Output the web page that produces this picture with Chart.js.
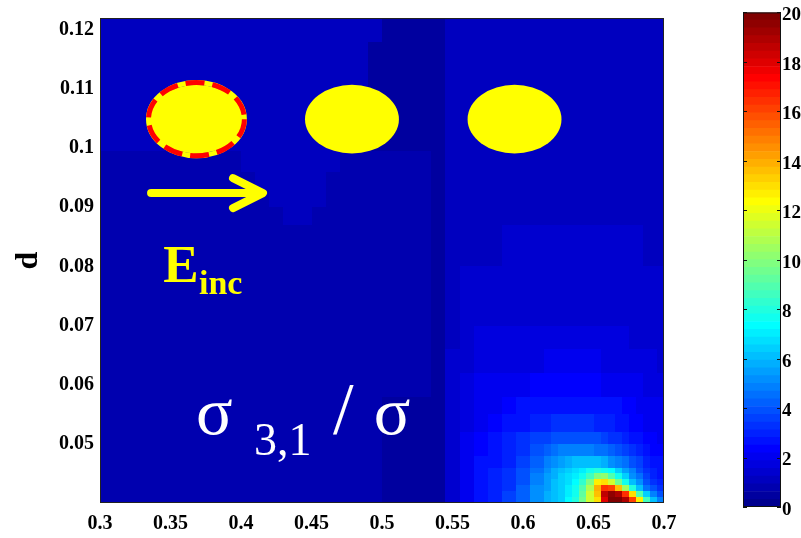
<!DOCTYPE html>
<html>
<head>
<meta charset="utf-8">
<script src="https://cdn.jsdelivr.net/npm/chart.js@4.4.0/dist/chart.umd.min.js"></script>
<style>
  html, body { margin: 0; padding: 0; background: #fff; }
  #wrap { position: relative; width: 801px; height: 538px; }
  #map { position: absolute; left: 0; top: 0; }
  #cbar { position: absolute; left: 700px; top: 0; }
</style>
</head>
<body>
<div id="wrap">
  <canvas id="map" width="700" height="538"></canvas>
  <canvas id="cbar" width="101" height="538"></canvas>
</div>
<script>
// Axis ticks
const xTicks = [0.3, 0.35, 0.4, 0.45, 0.5, 0.55, 0.6, 0.65, 0.7];
const yTicks = [0.05, 0.06, 0.07, 0.08, 0.09, 0.1, 0.11, 0.12];
const cbarTicks = [0, 2, 4, 6, 8, 10, 12, 14, 16, 18, 20];

// Left part of the map (x 0.3 - 0.545): cell edges and values, rows bottom to top
const leftX = [0.30, 0.40, 0.41, 0.42, 0.43, 0.44, 0.45, 0.46, 0.47, 0.48, 0.49, 0.50, 0.51, 0.535, 0.545];
const leftY = [0.040, 0.058, 0.087, 0.090, 0.093, 0.096, 0.0995, 0.103, 0.106, 0.110, 0.114, 0.118, 0.122];
const leftV = [
  [0.8, 0.8, 0.8, 0.8, 0.8, 0.8, 0.8, 0.8, 0.8, 0.8, 0.8, 0.5, 0.5, 0.5],
  [0.8, 0.8, 0.8, 0.8, 0.8, 0.8, 0.8, 0.8, 0.8, 0.8, 0.8, 0.8, 0.8, 0.5],
  [0.8, 0.8, 0.8, 0.8, 1.1, 1.1, 0.8, 0.8, 0.8, 0.8, 0.8, 0.8, 0.8, 0.5],
  [0.8, 0.8, 0.8, 1.1, 1.1, 1.1, 1.1, 0.8, 0.8, 0.8, 0.8, 0.8, 0.8, 0.5],
  [0.8, 0.8, 1.1, 1.1, 1.1, 1.1, 1.1, 0.8, 0.8, 0.8, 0.8, 0.8, 0.8, 0.5],
  [0.8, 1.1, 1.1, 1.1, 1.1, 1.1, 1.1, 1.1, 0.8, 0.8, 0.8, 0.8, 0.8, 0.5],
  [1.0, 1.1, 1.1, 1.1, 1.1, 1.1, 1.1, 1.1, 0.5, 0.5, 0.5, 0.5, 0.5, 0.5],
  [1.0, 1.1, 1.1, 1.1, 1.1, 1.1, 1.1, 1.1, 1.1, 0.5, 0.5, 0.5, 0.5, 0.5],
  [1.0, 1.1, 1.1, 1.1, 1.1, 1.1, 1.1, 1.1, 1.1, 0.5, 0.5, 0.5, 0.5, 0.5],
  [1.0, 1.1, 1.1, 1.1, 1.1, 1.1, 1.1, 1.1, 1.1, 1.1, 0.5, 0.5, 0.5, 0.5],
  [1.0, 1.1, 1.1, 1.1, 1.1, 1.1, 1.1, 1.1, 1.1, 1.1, 0.5, 0.5, 0.5, 0.5],
  [1.0, 1.1, 1.1, 1.1, 1.1, 1.1, 1.1, 1.1, 1.1, 1.1, 1.1, 0.5, 0.5, 0.5]
];

// Right part of the map (x 0.545 - 0.7), finer near the hot spot
const rightX = [0.545, 0.555, 0.565, 0.575, 0.585, 0.595, 0.605, 0.615, 0.62, 0.625, 0.63, 0.635,
  0.64, 0.645, 0.65, 0.655, 0.66, 0.665, 0.67, 0.675, 0.68, 0.685, 0.69, 0.695, 0.70];
const rightY = [0.040, 0.041, 0.042, 0.043, 0.044, 0.045, 0.046, 0.048, 0.050, 0.052, 0.055,
  0.058, 0.062, 0.066, 0.070, 0.075, 0.080, 0.087, 0.122];
const rightV = [
  [1.4, 2.0, 2.7, 3.1, 3.5, 4.3, 5.2, 5.8, 6.2, 6.5, 7.2, 8.0, 9.5, 11.5, 13.0, 18.0, 19.8, 19.8, 18.8, 16.0, 12.5, 8.5, 6.0, 4.8],
  [1.4, 2.0, 2.7, 3.1, 3.5, 4.2, 5.1, 5.7, 6.1, 6.4, 7.1, 7.8, 9.3, 11.5, 13.5, 18.5, 19.5, 18.8, 16.5, 13.0, 9.0, 6.5, 4.8, 3.8],
  [1.4, 2.0, 2.6, 3.0, 3.4, 4.1, 5.0, 5.6, 6.0, 6.3, 7.0, 7.6, 8.8, 10.8, 14.0, 16.5, 16.0, 13.5, 10.5, 8.0, 6.0, 4.6, 3.8, 3.2],
  [1.4, 2.0, 2.6, 3.0, 3.4, 4.0, 4.9, 5.5, 6.0, 6.3, 6.8, 7.3, 8.2, 9.8, 12.5, 13.0, 11.5, 9.5, 7.8, 6.2, 5.0, 4.0, 3.4, 2.9],
  [1.4, 2.0, 2.6, 3.0, 3.3, 3.9, 4.8, 5.4, 5.9, 6.3, 6.8, 7.1, 7.6, 8.5, 9.8, 10.0, 9.0, 7.6, 6.4, 5.3, 4.4, 3.6, 3.1, 2.7],
  [1.4, 2.0, 2.6, 2.9, 3.2, 3.8, 4.6, 5.2, 5.7, 6.1, 6.5, 6.8, 7.1, 7.5, 7.9, 7.8, 7.2, 6.4, 5.6, 4.8, 4.0, 3.4, 2.9, 2.6],
  [1.4, 2.0, 2.5, 2.8, 3.1, 3.6, 4.3, 4.8, 5.2, 5.5, 5.8, 6.0, 6.1, 6.1, 6.0, 5.7, 5.3, 4.9, 4.4, 4.0, 3.5, 3.1, 2.8, 2.5],
  [1.4, 1.9, 2.4, 2.7, 3.0, 3.4, 3.9, 4.3, 4.5, 4.7, 4.8, 4.9, 4.9, 4.8, 4.6, 4.4, 4.1, 3.8, 3.5, 3.2, 2.9, 2.7, 2.4, 2.2],
  [1.4, 1.9, 2.3, 2.6, 2.9, 3.2, 3.5, 3.7, 3.8, 3.9, 4.0, 4.0, 4.0, 3.9, 3.8, 3.6, 3.4, 3.2, 3.0, 2.8, 2.6, 2.4, 2.2, 2.1],
  [1.4, 1.8, 2.1, 2.4, 2.6, 2.8, 3.0, 3.1, 3.2, 3.3, 3.3, 3.3, 3.3, 3.2, 3.1, 3.0, 2.9, 2.7, 2.5, 2.3, 2.2, 2.1, 2.0, 1.9],
  [1.4, 1.7, 2.0, 2.1, 2.3, 2.5, 2.5, 2.7, 2.7, 2.7, 2.7, 2.7, 2.7, 2.7, 2.7, 2.5, 2.5, 2.5, 2.3, 2.3, 2.0, 2.0, 2.0, 1.9],
  [1.4, 1.7, 2.0, 2.0, 2.0, 2.0, 2.3, 2.3, 2.3, 2.3, 2.3, 2.3, 2.3, 2.3, 2.3, 2.0, 2.0, 2.0, 2.0, 2.0, 2.0, 1.7, 1.7, 1.7],
  [1.4, 1.4, 1.7, 1.7, 1.7, 1.7, 1.7, 2.0, 2.0, 2.0, 2.0, 2.0, 2.0, 2.0, 2.0, 1.7, 1.7, 1.7, 1.7, 1.7, 1.7, 1.7, 1.7, 1.4],
  [1.1, 1.4, 1.7, 1.7, 1.7, 1.7, 1.7, 1.7, 1.7, 1.7, 1.7, 1.7, 1.7, 1.7, 1.7, 1.7, 1.7, 1.7, 1.7, 1.4, 1.4, 1.4, 1.4, 1.4],
  [1.1, 1.4, 1.4, 1.4, 1.4, 1.4, 1.4, 1.4, 1.4, 1.4, 1.4, 1.4, 1.4, 1.4, 1.4, 1.4, 1.4, 1.4, 1.4, 1.4, 1.4, 1.4, 1.4, 1.4],
  [1.1, 1.4, 1.4, 1.4, 1.4, 1.4, 1.4, 1.4, 1.4, 1.4, 1.4, 1.4, 1.4, 1.4, 1.4, 1.4, 1.4, 1.4, 1.4, 1.4, 1.4, 1.4, 1.4, 1.4],
  [1.1, 1.1, 1.1, 1.1, 1.4, 1.4, 1.4, 1.4, 1.4, 1.4, 1.4, 1.4, 1.4, 1.4, 1.4, 1.4, 1.4, 1.4, 1.4, 1.4, 1.4, 1.1, 1.1, 1.1],
  [1.1, 1.1, 1.1, 1.1, 1.1, 1.1, 1.1, 1.1, 1.1, 1.1, 1.1, 1.1, 1.1, 1.1, 1.1, 1.1, 1.1, 1.1, 1.1, 1.1, 1.1, 1.1, 1.1, 1.1]
];

const SERIF = '"Liberation Serif", "Times New Roman", serif';
const V_MAX = 20;
const LEVELS = 64;

// MATLAB-style jet colormap, 64 levels
function jet(v) {
  let idx = Math.floor(v / V_MAX * LEVELS);
  idx = Math.max(0, Math.min(LEVELS - 1, idx));
  const t = (idx + 1) / LEVELS;
  const c = a => Math.round(255 * Math.max(0, Math.min(1, a)));
  const r = c(Math.min(4 * t - 1.5, -4 * t + 4.5));
  const g = c(Math.min(4 * t - 0.5, -4 * t + 3.5));
  const b = c(Math.min(4 * t + 0.5, -4 * t + 2.5));
  return `rgb(${r},${g},${b})`;
}

const grids = [
  { xs: leftX, ys: leftY, vals: leftV },
  { xs: rightX, ys: rightY, vals: rightV }
];

// cell centres, used as the (invisible) scatter points
function cellPoints() {
  const pts = [];
  grids.forEach(g => {
    g.vals.forEach((row, j) => {
      row.forEach((v, i) => {
        pts.push({ x: (g.xs[i] + g.xs[i + 1]) / 2, y: (g.ys[j] + g.ys[j + 1]) / 2, v: v });
      });
    });
  });
  return pts;
}

// Paint each grid cell through the chart scales
const heatmapPlugin = {
  id: 'heatmap',
  beforeDatasetsDraw(chart) {
    const { ctx, chartArea: a, scales: { x, y } } = chart;
    ctx.save();
    ctx.beginPath();
    ctx.rect(a.left, a.top, a.right - a.left, a.bottom - a.top);
    ctx.clip();
    grids.forEach(g => {
      g.vals.forEach((row, j) => {
        const y0 = Math.round(y.getPixelForValue(g.ys[j]));
        const y1 = Math.round(y.getPixelForValue(g.ys[j + 1]));
        row.forEach((v, i) => {
          const x0 = Math.round(x.getPixelForValue(g.xs[i]));
          const x1 = Math.round(x.getPixelForValue(g.xs[i + 1]));
          ctx.fillStyle = jet(v);
          ctx.fillRect(x0, y1, x1 - x0, y0 - y1);
        });
      });
    });
    ctx.restore();
  }
};

// Particles, incident field arrow and labels drawn over the map
const overlayPlugin = {
  id: 'overlay',
  afterDatasetsDraw(chart) {
    const { ctx, scales: { x, y } } = chart;
    const px = v => x.getPixelForValue(v);
    const py = v => y.getPixelForValue(v);
    const rx = d => px(0.5 + d) - px(0.5);
    const ry = d => py(0.08) - py(0.08 + d);
    ctx.save();

    const cy = py(0.1049);
    [0.3684, 0.4787, 0.594].forEach(cx => {
      ctx.beginPath();
      ctx.ellipse(px(cx), cy, rx(0.0333), ry(0.0058), 0, 0, Math.PI * 2);
      ctx.fillStyle = '#ffff00';
      ctx.fill();
    });

    // dashed ring round the first particle
    ctx.beginPath();
    ctx.ellipse(px(0.3684), cy, rx(0.0340), ry(0.0062), 0, 0, Math.PI * 2);
    ctx.lineWidth = 5;
    ctx.strokeStyle = '#ffff00';
    ctx.stroke();
    ctx.setLineDash([19, 8]);
    ctx.strokeStyle = '#ff0000';
    ctx.stroke();
    ctx.setLineDash([]);

    // arrow
    const ay = py(0.0924);
    const tipX = px(0.4156);
    ctx.strokeStyle = '#ffff00';
    ctx.lineWidth = 8;
    ctx.lineCap = 'round';
    ctx.lineJoin = 'round';
    ctx.beginPath();
    ctx.moveTo(px(0.3362), ay);
    ctx.lineTo(tipX - 6, ay);
    ctx.stroke();
    ctx.beginPath();
    ctx.moveTo(tipX - 30, ay - 15);
    ctx.lineTo(tipX, ay);
    ctx.lineTo(tipX - 30, ay + 15);
    ctx.stroke();

    // E_inc
    ctx.fillStyle = '#ffff00';
    ctx.textBaseline = 'alphabetic';
    ctx.textAlign = 'left';
    ctx.font = 'bold 53px ' + SERIF;
    ctx.fillText('E', px(0.3448), py(0.0774));
    ctx.font = 'bold 34px ' + SERIF;
    ctx.fillText('inc', px(0.3702), py(0.0754));

    // sigma_{3,1} / sigma
    ctx.fillStyle = '#ffffff';
    ctx.font = '68px ' + SERIF;
    ctx.fillText('\u03c3', px(0.3680), py(0.0516));
    ctx.font = '46px ' + SERIF;
    ctx.fillText('3,1', px(0.4092), py(0.0482));
    ctx.font = '74px ' + SERIF;
    ctx.fillText('/', px(0.4652), py(0.0516));
    ctx.font = '68px ' + SERIF;
    ctx.fillText('\u03c3', px(0.4942), py(0.0516));
    ctx.restore();
  },
  afterDraw(chart) {
    const { ctx, chartArea: a } = chart;
    ctx.save();
    ctx.strokeStyle = '#222';
    ctx.lineWidth = 1;
    ctx.strokeRect(a.left + 0.5, a.top + 0.5, a.right - a.left - 1, a.bottom - a.top - 1);
    ctx.restore();
  }
};

const fmt = v => String(Number(Number(v).toFixed(2)));
const tickFont = { family: SERIF, size: 20, weight: 'bold' };

new Chart(document.getElementById('map'), {
  type: 'scatter',
  data: {
    datasets: [{
      data: cellPoints(),
      pointRadius: 0,
      pointHoverRadius: 0
    }]
  },
  options: {
    responsive: false,
    animation: false,
    events: [],
    layout: { padding: { left: 0, right: 36, top: 10, bottom: 0 } },
    plugins: { legend: { display: false }, tooltip: { enabled: false } },
    scales: {
      x: {
        type: 'linear',
        min: 0.3,
        max: 0.7,
        afterFit: s => { s.height = 35; },
        afterBuildTicks: s => { s.ticks = xTicks.map(v => ({ value: v })); },
        grid: { display: false, drawTicks: false },
        border: { display: false },
        ticks: { padding: 9, color: '#000', font: tickFont, maxRotation: 0, autoSkip: false, callback: fmt }
      },
      y: {
        type: 'linear',
        min: 0.04,
        max: 0.122,
        afterFit: s => { s.width = 100; },
        afterBuildTicks: s => { s.ticks = yTicks.map(v => ({ value: v })); },
        grid: { display: false, drawTicks: false },
        border: { display: false },
        ticks: { padding: 6, color: '#000', font: tickFont, autoSkip: false, callback: fmt },
        title: {
          display: true,
          text: 'd',
          color: '#000',
          font: { family: SERIF, size: 32, weight: 'bold' },
          padding: { top: 10, bottom: 0 }
        }
      }
    }
  },
  plugins: [heatmapPlugin, overlayPlugin]
});

// Colour bar: 64 stacked bands with inside ticks on both edges
const cbarFrame = {
  id: 'cbarFrame',
  afterDraw(chart) {
    const { ctx, chartArea: a, scales: { y } } = chart;
    ctx.save();
    ctx.strokeStyle = '#111';
    ctx.lineWidth = 1;
    ctx.strokeRect(a.left + 0.5, a.top + 0.5, a.right - a.left - 1, a.bottom - a.top - 1);
    cbarTicks.forEach(t => {
      const p = Math.round(y.getPixelForValue(t)) + 0.5;
      ctx.beginPath();
      ctx.moveTo(a.left, p);
      ctx.lineTo(a.left + 4, p);
      ctx.moveTo(a.right - 4, p);
      ctx.lineTo(a.right, p);
      ctx.stroke();
    });
    ctx.restore();
  }
};

const bands = [];
for (let i = 0; i < LEVELS; i++) {
  bands.push({
    data: [V_MAX / LEVELS],
    backgroundColor: jet((i + 0.5) * V_MAX / LEVELS),
    borderWidth: 0,
    barPercentage: 1,
    categoryPercentage: 1,
    stack: 'bar'
  });
}

new Chart(document.getElementById('cbar'), {
  type: 'bar',
  data: { labels: [''], datasets: bands },
  options: {
    responsive: false,
    animation: false,
    events: [],
    layout: { padding: { left: 43, right: 0, top: 10, bottom: 31 } },
    plugins: { legend: { display: false }, tooltip: { enabled: false } },
    scales: {
      x: { display: false, stacked: true },
      y: {
        position: 'right',
        stacked: true,
        min: 0,
        max: 20,
        afterFit: s => { s.width = 20; },
        afterBuildTicks: s => { s.ticks = cbarTicks.map(v => ({ value: v })); },
        grid: { display: false, drawTicks: false },
        border: { display: false },
        ticks: { padding: 1, labelOffset: 3, color: '#000', font: { family: SERIF, size: 19, weight: 'bold' } }
      }
    }
  },
  plugins: [cbarFrame]
});
</script>
</body>
</html>
